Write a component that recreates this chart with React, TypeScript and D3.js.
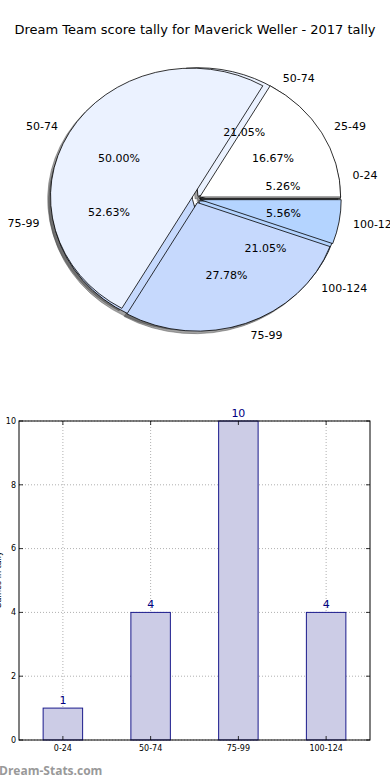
import * as d3 from "d3";

// pie 1 (drawn first, underneath)
const pieACats = ["0-24", "50-74", "75-99", "100-124"];
const pieAValues = [1, 4, 10, 4];
// pie 2 (drawn on top)
const pieBCats = ["25-49", "50-74", "75-99", "100-124"];
const pieBValues = [3, 9, 5, 1];
const wedgeColors = ["#ffffff", "#ebf2ff", "#c6d9fd", "#b4d4ff"];

// bar chart
const barCats = ["0-24", "50-74", "75-99", "100-124"];
const barValues = [1, 4, 10, 4];
const yTicks = [0, 2, 4, 6, 8, 10];

const font = "'DejaVu Sans', sans-serif";

const cx = 196, cy = 199, rx = 141, ry = 128.5;

const arcGen = d3.arc<any>().innerRadius(0).outerRadius(1);

function buildPie(cats: string[], values: number[], explode: number) {
  const total = d3.sum(values);
  const arcs = d3.pie<number>().sort(null).startAngle(Math.PI / 2).endAngle(Math.PI / 2 - 2 * Math.PI)(values);
  return arcs.map((a, i) => {
    const mid = (a.startAngle + a.endAngle) / 2;
    const dx = Math.sin(mid), dy = -Math.cos(mid);
    const ox = cx + explode * rx * dx, oy = cy + explode * ry * dy;
    return {
      cat: cats[i],
      pct: d3.format(".2f")((values[i] / total) * 100) + "%",
      path: arcGen({ startAngle: a.startAngle, endAngle: a.endAngle }) as string,
      color: wedgeColors[i],
      ox, oy, dx, dy,
    };
  });
}

const wedgesA = buildPie(pieACats, pieAValues, 0.025);
const wedgesB = buildPie(pieBCats, pieBValues, 0.03);

const PieChart = () => {
  const all = [...wedgesA, ...wedgesB];
  return (
    <g>
      {/* shadows sit under every wedge */}
      {all.map((w, i) => (
        <path key={"s" + i} d={w.path}
          transform={`translate(${w.ox - 0.02 * rx},${w.oy + 0.02 * ry}) scale(${rx},${ry})`}
          fill="#333" fillOpacity={0.45} stroke="#555" strokeOpacity={0.5} strokeWidth={1}
          vectorEffect="non-scaling-stroke" />
      ))}
      {all.map((w, i) => (
        <path key={"w" + i} d={w.path}
          transform={`translate(${w.ox},${w.oy}) scale(${rx},${ry})`}
          fill={w.color} stroke="#000" strokeWidth={0.8}
          vectorEffect="non-scaling-stroke" />
      ))}
      {all.map((w, i) => {
        const lx = w.ox + 1.1 * rx * w.dx, ly = w.oy + 1.1 * ry * w.dy;
        const px = w.ox + 0.6 * rx * w.dx, py = w.oy + 0.6 * ry * w.dy;
        return (
          <g key={"t" + i} fontFamily={font} fontSize={11} fill="#000">
            <text x={lx} y={ly} dy="0.35em" textAnchor={w.dx > 0 ? "start" : "end"}>{w.cat}</text>
            <text x={px} y={py} dy="0.35em" textAnchor="middle">{w.pct}</text>
          </g>
        );
      })}
    </g>
  );
};

const BarChart = () => {
  const left = 19, right = 370, top = 421, bottom = 740;
  const x = d3.scalePoint<string>().domain(barCats).range([left, right]).padding(0.5);
  const y = d3.scaleLinear().domain([0, 10]).range([bottom, top]);
  const bw = x.step() * 0.45;
  return (
    <g fontFamily={font}>
      {/* grid */}
      {yTicks.map(t => (
        <line key={"gy" + t} x1={left} x2={right} y1={y(t)} y2={y(t)}
          stroke="#b0b0b0" strokeWidth={1} strokeDasharray="1,2" />
      ))}
      {barCats.map(c => (
        <line key={"gx" + c} x1={x(c)} x2={x(c)} y1={top} y2={bottom}
          stroke="#b0b0b0" strokeWidth={1} strokeDasharray="1,2" />
      ))}
      {barCats.map((c, i) => (
        <g key={"b" + c}>
          <rect x={(x(c) as number) - bw / 2} y={y(barValues[i])} width={bw}
            height={bottom - y(barValues[i])} fill="#cccce6" stroke="#1a1a8c" strokeWidth={1} />
          <text x={x(c)} y={y(barValues[i]) - 4} textAnchor="middle" fontSize={11} fill="#000080">
            {barValues[i]}
          </text>
        </g>
      ))}
      {/* ticks */}
      {yTicks.map(t => (
        <g key={"ty" + t}>
          <line x1={left} x2={left + 4} y1={y(t)} y2={y(t)} stroke="#000" strokeWidth={0.8} />
          <line x1={right - 4} x2={right} y1={y(t)} y2={y(t)} stroke="#000" strokeWidth={0.8} />
          <text x={left - 3} y={y(t)} dy="0.35em" textAnchor="end" fontSize={8} fill="#000">{t}</text>
        </g>
      ))}
      {barCats.map(c => (
        <g key={"tx" + c}>
          <line x1={x(c)} x2={x(c)} y1={bottom} y2={bottom - 4} stroke="#000" strokeWidth={0.8} />
          <line x1={x(c)} x2={x(c)} y1={top} y2={top + 4} stroke="#000" strokeWidth={0.8} />
          <text x={x(c)} y={bottom + 11} textAnchor="middle" fontSize={8} fill="#000">{c}</text>
        </g>
      ))}
      <rect x={left} y={top} width={right - left} height={bottom - top} fill="none" stroke="#000" strokeWidth={1} />
      <text transform={`translate(1,580) rotate(-90)`} textAnchor="middle" fontSize={8} fill="#000">Games in tally</text>
    </g>
  );
};

export default function App() {
  return (
    <svg width={390} height={780} style={{ position: "absolute", left: 0, top: 0, background: "#fff" }}>
      <rect width={390} height={780} fill="#fff" />
      <text x={195} y={34} textAnchor="middle" fontFamily={font} fontSize={13} fill="#000">
        Dream Team score tally for Maverick Weller - 2017 tally
      </text>
      <PieChart />
      <BarChart />
      <text x={-1} y={775} fontFamily="'Open Sans', sans-serif" fontWeight="bold" fontSize={12} fill="#999">Dream-Stats.com</text>
    </svg>
  );
}
